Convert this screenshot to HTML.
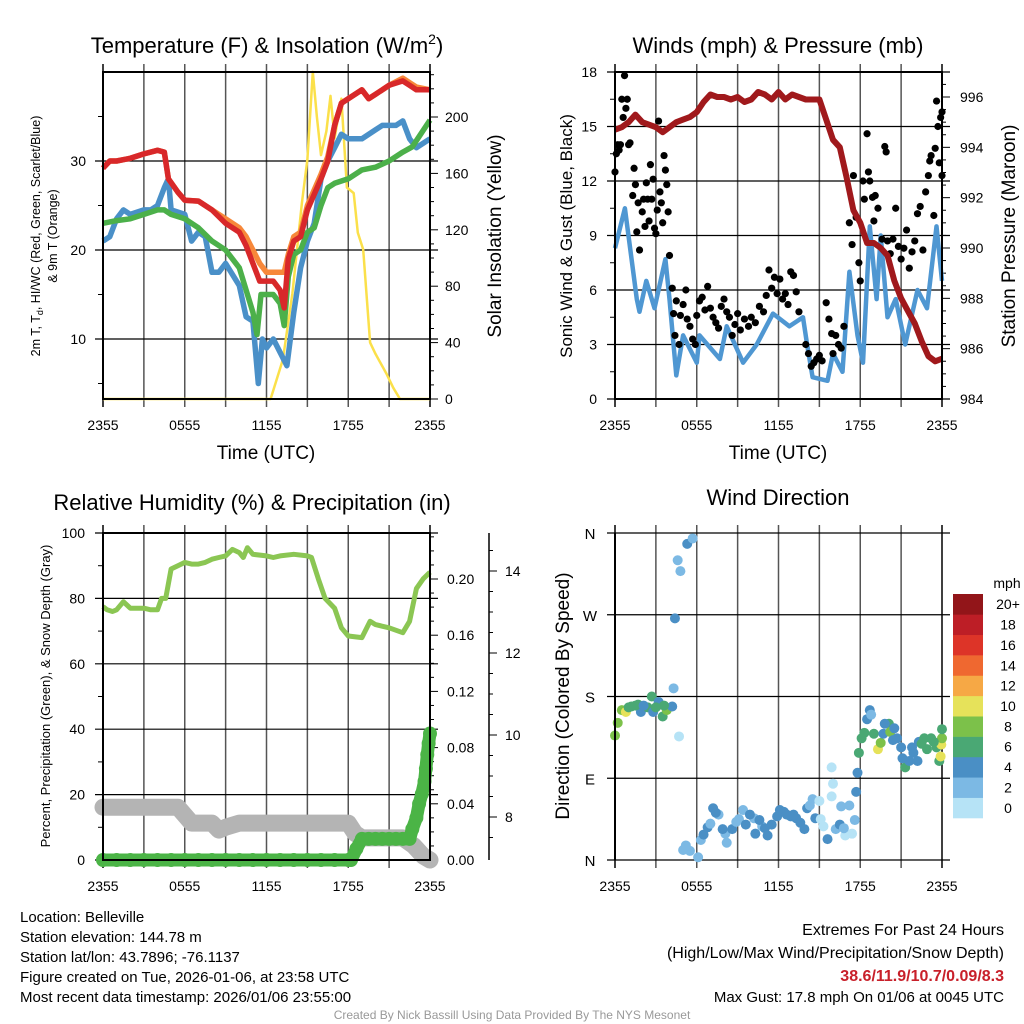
<!DOCTYPE html>
<html><head><meta charset="utf-8"><style>
html,body{margin:0;padding:0;background:#fff;}
svg{display:block;font-family:"Liberation Sans",sans-serif;}
</style></head><body>
<svg id="chart" width="1024" height="1024" viewBox="0 0 1024 1024" xmlns="http://www.w3.org/2000/svg">
<rect x="0" y="0" width="1024" height="1024" fill="#fff"/>
<text x="267" y="53" font-size="22" text-anchor="middle">Temperature (F) &amp; Insolation (W/m<tspan dy="-9" font-size="14">2</tspan><tspan dy="9">)</tspan></text>
<text x="778" y="53" font-size="22" text-anchor="middle">Winds (mph) &amp; Pressure (mb)</text>
<text x="252" y="510" font-size="22" text-anchor="middle">Relative Humidity (%) &amp; Precipitation (in)</text>
<text x="778" y="505" font-size="22" text-anchor="middle">Wind Direction</text>
<text transform="translate(40,236) rotate(-90)" font-size="12.5" text-anchor="middle">2m T, T<tspan dy="3" font-size="9">d</tspan><tspan dy="-3">, HI/WC (Red, Green, Scarlet/Blue)</tspan></text>
<text transform="translate(57,236) rotate(-90)" font-size="12.5" text-anchor="middle">&amp; 9m T (Orange)</text>
<text transform="translate(501,236) rotate(-90)" font-size="19" text-anchor="middle">Solar Insolation (Yellow)</text>
<text transform="translate(572,236) rotate(-90)" font-size="17" text-anchor="middle">Sonic Wind &amp; Gust (Blue, Black)</text>
<text transform="translate(1015,236) rotate(-90)" font-size="19" text-anchor="middle">Station Pressure (Maroon)</text>
<text transform="translate(50,696) rotate(-90)" font-size="13" text-anchor="middle">Percent, Precipitation (Green), &amp; Snow Depth (Gray)</text>
<text transform="translate(569,696) rotate(-90)" font-size="19" text-anchor="middle">Direction (Colored By Speed)</text>
<text x="266" y="459" font-size="19" text-anchor="middle">Time (UTC)</text>
<text x="778" y="459" font-size="19" text-anchor="middle">Time (UTC)</text>
<g font-size="15">
<text x="20" y="922">Location: Belleville</text>
<text x="20" y="942">Station elevation: 144.78 m</text>
<text x="20" y="962">Station lat/lon: 43.7896; -76.1137</text>
<text x="20" y="982">Figure created on Tue, 2026-01-06, at 23:58 UTC</text>
<text x="20" y="1002">Most recent data timestamp: 2026/01/06 23:55:00</text>
</g>
<g font-size="15" text-anchor="end">
<text x="1004" y="935" font-size="16">Extremes For Past 24 Hours</text>
<text x="1004" y="958" font-size="16">(High/Low/Max Wind/Precipitation/Snow Depth)</text>
<text x="1004" y="981" font-size="16" font-weight="bold" fill="#c8202a">38.6/11.9/10.7/0.09/8.3</text>
<text x="1004" y="1002">Max Gust: 17.8 mph On 01/06 at 0045 UTC</text>
</g>
<text x="512" y="1019" font-size="12" fill="#999" text-anchor="middle">Created By Nick Bassill Using Data Provided By The NYS Mesonet</text>
<g id="layer"></g>
</svg>
<script>
// ---- Panel 1 data (hours since 2355) ----
const tT = [0,0.5,1,2,3,4,4.5,4.8,5.5,6,7,8,9,10,10.5,11,11.5,12,12.5,13,13.3,13.6,14,14.5,15,16,16.5,17,17.5,18,19,19.5,20,21,22,22.5,23,24];
const tempRed = [29.2,30,30,30.3,30.8,31.2,31,28,26.5,25.6,25.5,24.5,23,22,20.5,18.5,16.5,16.5,16.5,15.5,13.5,19,21,21.5,24.5,28,30,34,36.5,37,38,37,37.5,38.5,39,38.5,38,38];
const tempOrange = [29.2,30,30,30.3,30.8,31.2,31,28,26.5,25.6,25.5,24.5,23.5,22.5,21.5,20,18.5,17.5,17.5,17.5,17.5,19.5,21.5,22,25,28.5,30.5,34,36.5,37,38,37,37.5,38.5,39.3,38.8,38.3,38];
const tD = [0,0.5,1,1.5,2,3,3.5,4,4.5,4.8,5,6,6.5,7,7.5,8,8.5,9,10,10.5,11,11.4,11.7,12,12.5,13,13.5,14,14.5,15,15.5,16,16.5,17,17.5,18,18.5,19,19.5,20,20.5,21,21.5,22,22.5,23,24];
const dewBlue = [21,21.5,23.5,24.5,24,24.5,24.5,25,27,28,24.5,24,21,22,21.5,17.5,17.5,18.5,16,12.5,12,5,10,9,10,8.5,7,13,18,21,23,28,30,31.5,33,32.5,32.5,32.5,33,33.5,34,34,34,34.5,32.5,31.5,32.5];
const tG = [0,1,2,3,4,4.5,5,6,7,8,9,10,10.5,11,11.3,11.6,12,12.5,13,13.3,13.6,14,14.5,15,15.5,16,16.5,17,18,19,20,21,21.5,22,22.7,24];
const windchillGreen = [23,23.3,23.5,24,24.5,24.5,24,23.5,22.5,21,20,18,15.5,13,10.5,15,15,15,14,11.5,17,19.5,20,22,22.5,25,27,27.5,28,29,29.3,30,30.5,31,31.6,34.6];
const tS = [0,11.8,12.3,13.2,13.9,14.6,15,15.4,15.7,16,16.4,16.7,17,17.5,17.9,18.4,18.7,19.1,19.6,20,20.8,21.3,21.8,24];
const solarYellow = [0,0,0,28,75,139,170,232,200,173,190,215,185,213,150,146,118,106,40,32,18,8,0,0];
const tempTicks = [10,20,30];
const solarTicks = [0,40,80,120,160,200];
// ---- Panel 2 data ----
const tW = [0,0.73,1.6,1.8,2.3,2.9,3.7,4,4.5,5,6,6.2,7.7,8.2,9.4,10.4,11.6,12.8,13.8,14.1,14.5,15.6,16,16.7,17.2,17.8,18.2,18.7,19.2,19.5,20,20.6,21.3,22.2,22.9,23.6,24];
const windBlue = [8.3,10.5,5.5,4.8,6.5,5,7.7,5.5,1.3,3.5,2,3.5,2.2,4,2,3,4.7,4,4.5,3,1.2,1,2.5,1.5,7,3.5,2,9.5,5.5,9,4.5,5.5,3,6,5,9.5,6.5];
const tGust = [0,0.1,0.2,0.3,0.4,0.5,0.6,0.7,0.8,0.9,1,1.1,1.3,1.4,1.5,1.6,1.7,1.8,2,2.1,2.2,2.3,2.4,2.5,2.6,2.7,2.8,2.9,3,3.1,3.2,3.3,3.4,3.5,3.6,3.7,3.8,3.9,4,4.2,4.3,4.4,4.5,4.7,4.8,5,5.2,5.3,5.5,5.7,5.9,6,6.2,6.4,6.6,6.8,7,7.2,7.4,7.6,7.8,8,8.2,8.4,8.6,8.8,9,9.2,9.5,9.8,10,10.3,10.6,10.9,11.1,11.3,11.5,11.7,11.9,12.1,12.3,12.5,12.7,12.9,13.1,13.3,13.5,14,14.2,14.4,14.6,14.8,15,15.2,15.5,15.7,15.9,16,16.2,16.4,16.6,16.8,17.2,17.4,17.5,17.7,17.9,18,18.2,18.3,18.5,18.6,18.7,18.9,19,19.1,19.3,19.6,19.8,19.9,20,20.2,20.4,20.6,20.8,21,21.2,21.4,21.6,21.8,22,22.2,22.4,22.6,22.8,23,23.1,23.2,23.4,23.5,23.6,23.7,23.8,23.9,24,24];
const gustBlack = [12.5,13.5,14,13.7,14,16.5,15.5,17.8,16,16.5,14,14.1,11.2,12.7,11.8,9.2,10.8,8.2,10.3,11,9.5,11.9,11,9.8,12.9,11,12.1,9.4,9.1,10.4,15.3,11.4,10.8,9.7,13.4,12.6,11.8,10.3,7.9,6.1,4.7,3.5,5.4,3,4.6,5.2,6,4.4,4,3.3,3,4.6,5.4,5.6,4.9,6.2,5,4.5,4.2,3.9,5.1,5.5,4.8,4.5,3.5,4.1,4.7,3.8,4.4,4,4.5,4.2,5.1,4.8,5.7,7.1,6.1,6.7,5.8,6.6,5.5,5.8,5.2,7,6.8,5.9,4.8,3,2.5,1.8,2,2.2,2.4,2.1,5.3,4.4,3.6,2.5,3.5,3,2.8,4,9.7,8.5,12.3,10,7.5,6.5,12,11,14.6,12.5,12,11.1,9.8,11.2,10.5,8.8,13.9,13.6,8.7,8,8.8,10.5,8.4,7.7,8.3,9.3,7.2,8.1,8.7,10.2,10.6,8.2,11.4,12.3,13.1,13.4,10.1,13.8,16.4,15,13,15.5,15.8,12.3];
const tP = [0,0.5,1,1.5,2,2.5,3,3.5,4,4.5,5,5.5,6,6.5,7,7.5,8,8.5,9,9.5,10,10.5,11,11.5,12,12.5,13,13.5,14,15,15.5,16,16.5,17,17.5,18,18.5,19,19.5,20,20.5,21,21.5,22,22.5,23,23.5,24];
const pressureMaroon = [994.7,994.8,995,995.3,995,994.9,994.8,994.6,994.8,995,995.1,995.2,995.4,995.8,996.1,996,996,995.9,996,995.8,995.9,996.2,996.1,995.9,996.2,995.9,996.1,996,995.9,995.9,995.1,994.3,994,992.8,991.5,991,990.2,990.2,990,989.7,988.7,988,987.5,987,986.3,985.7,985.5,985.6];
const windTicks = [0,3,6,9,12,15,18];
const pressureTicks = [984,986,988,990,992,994,996];
// ---- Panel 3 data ----
const tRH = [0,0.3,0.7,1,1.5,2,3,3.5,4,4.3,4.6,5,5.5,6,6.5,7,7.5,8,8.5,9,9.5,10,10.3,10.6,11,12,12.5,13,14,15,15.3,15.8,16.3,17,17.5,18,19,19.6,20,21,22,22.5,23,23.5,24];
const rhGreen = [77.5,76.5,76,76.5,79,77,77,76.5,76.5,80,80,89,90,91,90.5,90.5,91,92,92.5,93,95,94,92.5,95.5,93.5,93,92.5,93,93.5,93,92.5,86,80,77,71,68.5,68,73,72,71,69.5,73,83,86,88];
const tSnow = [0,5.5,6.5,8,8.5,9,10,13,16,18,18.5,19,21,22,22.8,23.5,24];
const snowGray = [8.24,8.24,7.85,7.85,7.68,7.75,7.85,7.85,7.85,7.85,7.6,7.49,7.49,7.49,7.3,7.05,6.95];
const tPrecip = [0,1,2,3,4,5,6,7,8,9,10,11,12,13,14,15,16,17,18,18.2,18.6,19,19.5,20,20.5,21,21.5,22,22.5,22.7,23,23.2,23.4,23.6,23.7,23.8,23.9,24];
const precipGreen = [0,0,0,0,0,0,0,0,0,0,0,0,0,0,0,0,0,0,0,0,0.008,0.015,0.015,0.015,0.015,0.015,0.015,0.015,0.015,0.022,0.03,0.04,0.047,0.056,0.065,0.075,0.083,0.09];
const rhTicks = [0,20,40,60,80,100];
const precipTicks = [0,0.04,0.08,0.12,0.16,0.2];
const precipTickLabels = ["0.00","0.04","0.08","0.12","0.16","0.20"];
const snowTicks = [8,10,12,14];
// ---- Panel 4 data ----
const tDir = [0,0.2,0.5,0.8,1.2,1.7,1.9,2.4,2.7,2.8,3.2,3.5,3.8,4.2,4.3,4.4,4.7,4.6,4.8,5.3,5.7,5.0,5.5,6.1,6.3,6.8,7.2,7.6,8.1,8.2,8.6,9.1,9.4,9.6,10.2,10.3,10.8,11.2,11.5,11.9,12.4,12.9,13.3,13.6,13.9,14.1,14.5,14.7,15,15.3,15.6,15.9,16,15.9,16.2,16.5,16.6,16.9,17.2,17.4,17.6,17.7,17.8,17.9,18.1,18.5,18.7,18.8,19.0,19.3,19.5,19.7,20.1,20.2,20.5,20.7,21,21.3,21.6,21.8,22.2,22.3,22.7,22.9,23.2,23.6,23.8,23.9,23.95,24,24,1.0,1.5,2.1,3.0,3.6,5.2,6.5,7.0,7.4,7.9,8.9,9.9,10.6,11.0,12.1,12.6,13.1,14.3,15.1,16.8,18.3,19.8,20.4,21.1,21.9,22.5,23.4];
const dirDeg = [137,151,165,163,169,171,163,168,180,163,174,158,165,169,189,266,136,330,318,348,354,11,10,3,22,36,57,50,29,19,34,45,55,39,46,29,37,27,39,48,53,48,46,41,34,57,67,46,65,37,23,102,84,70,34,39,59,27,60,29,44,75,96,118,134,155,165,160,139,122,129,139,150,141,145,134,124,102,109,124,109,130,134,122,134,124,109,114,127,134,144,168,170,170,168,170,16,28,40,52,34,42,50,44,35,55,50,50,60,45,35,140,150,132,112,118,128,130];
const dirSpeed = [8,8,8,10,6,6,4,6,6,4,4,6,8,4,2,4,0,2,2,4,2,2,2,2,2,4,4,2,2,2,4,2,2,4,2,4,2,4,4,4,4,4,4,4,4,4,2,4,0,0,4,0,0,0,2,4,2,0,2,0,2,4,4,6,6,4,4,2,6,10,8,4,6,8,4,4,4,6,4,4,4,4,6,6,6,6,6,10,10,8,6,6,6,4,6,6,2,4,2,4,4,2,4,4,4,4,4,4,2,0,2,6,4,4,4,4,6,6];
const dirTickLabels = ["N","E","S","W","N"];
const speedBins = ["0","2","4","6","8","10","12","14","16","18","20+"];
const speedColors = ["#b6e3f6","#7cb9e4","#4a8fc5","#4aa874","#7cc14a","#e6e25a","#f6a845","#ef6830","#dd3428","#bd1e26","#921519"];

const NS = "http://www.w3.org/2000/svg";
const layer = document.getElementById('layer');
function mk(tag, attrs, name, parent) {
  const el = document.createElementNS(NS, tag);
  for (const k in attrs) el.setAttribute(k, attrs[k]);
  
  
  (parent || layer).appendChild(el);
  return el;
}
function lin(d0, d1, r0, r1) { return v => r0 + (v - d0) * (r1 - r0) / (d1 - d0); }
function pathD(ts, vs, xf, yf) { return ts.map((t, i) => (i ? 'L' : 'M') + xf(t).toFixed(1) + ',' + yf(vs[i]).toFixed(1)).join(''); }
const timeLabels = ["2355","0555","1155","1755","2355"];

function frame(x0, x1, y0, y1, pname) {
  const xf = lin(0, 24, x0, x1);
  for (let h = 0; h <= 24; h += 3) {
    mk('line', {x1: xf(h), x2: xf(h), y1: y0 - 8, y2: y1 + 8, stroke: (h === 0 || h === 24) ? '#000' : '#555', 'stroke-width': 1.5}, pname + '-vgrid');
  }
  for (let i = 0; i < 5; i++) {
    mk('text', {x: xf(i * 6), y: y1 + 31, 'font-size': 14, 'text-anchor': 'middle'}, pname + '-x-tick-label').textContent = timeLabels[i];
  }
  return xf;
}
function hgrid(x0, x1, y, pname) {
  mk('line', {x1: x0 - 8, x2: x1 + 8, y1: y, y2: y, stroke: '#000', 'stroke-width': 1.2}, pname + '-hgrid');
}
function box(x0, x1, y0, y1, pname) {
  mk('rect', {x: x0, y: y0, width: x1 - x0, height: y1 - y0, fill: 'none', stroke: '#000', 'stroke-width': 2}, pname + '-frame');
}
function tickL(x, y, len, pname) { mk('line', {x1: x - len, x2: x, y1: y, y2: y, stroke: '#000', 'stroke-width': 1}, pname + '-tick'); }
function tickR(x, y, len, pname) { mk('line', {x1: x, x2: x + len, y1: y, y2: y, stroke: '#000', 'stroke-width': 1}, pname + '-tick'); }

// ===== Panel 1 =====
(function () {
  const x0 = 103, x1 = 430, y0 = 72, y1 = 399;
  const xf = frame(x0, x1, y0, y1, 'temp');
  const yT = lin(10, 20, 339, 250);
  const yS = lin(0, 200, 399, 117);
  tempTicks.forEach(v => {
    hgrid(x0, x1, yT(v), 'temp');
    mk('text', {x: 86, y: yT(v) + 5, 'font-size': 14, 'text-anchor': 'end'}, 'temp-y-tick-label').textContent = v;
  });
  [5, 15, 25, 35].forEach(v => tickL(x0, yT(v), 5, 'temp-minor'));
  solarTicks.forEach(v => {
    tickR(x1, yS(v), 8, 'solar');
    mk('text', {x: 445, y: yS(v) + 5, 'font-size': 14}, 'solar-y-tick-label').textContent = v;
  });
  for (let v = 10; v <= 230; v += 10) if (v % 40) tickR(x1, yS(v), 4, 'solar-minor');
  mk('path', {d: pathD(tS, solarYellow, xf, yS), fill: 'none', stroke: '#fbe04a', 'stroke-width': 2.5, 'stroke-linejoin': 'round'}, 'solar-insolation-line');
  mk('path', {d: pathD(tD, dewBlue, xf, yT), fill: 'none', stroke: '#4a90c8', 'stroke-width': 5.5, 'stroke-linejoin': 'round'}, 'dewpoint-line');
  mk('path', {d: pathD(tG, windchillGreen, xf, yT), fill: 'none', stroke: '#4cb04a', 'stroke-width': 5.5, 'stroke-linejoin': 'round'}, 'windchill-line');
  mk('path', {d: pathD(tT, tempOrange, xf, yT), fill: 'none', stroke: '#f7883a', 'stroke-width': 5.5, 'stroke-linejoin': 'round'}, 'temp-9m-line');
  mk('path', {d: pathD(tT, tempRed, xf, yT), fill: 'none', stroke: '#d8282a', 'stroke-width': 5.5, 'stroke-linejoin': 'round'}, 'temp-2m-line');
  box(x0, x1, y0, y1, 'temp');
})();

// ===== Panel 2 =====
(function () {
  const x0 = 615, x1 = 942, y0 = 72, y1 = 399;
  const xf = frame(x0, x1, y0, y1, 'wind');
  const yW = lin(0, 18, 399, 72);
  const yP = lin(984, 996, 399, 97);
  windTicks.forEach(v => {
    hgrid(x0, x1, yW(v), 'wind');
    mk('text', {x: 597, y: yW(v) + 5, 'font-size': 14, 'text-anchor': 'end'}, 'wind-y-tick-label').textContent = v;
  });
  for (let v = 1.5; v < 18; v += 3) tickL(x0, yW(v), 5, 'wind-minor');
  pressureTicks.forEach(v => {
    tickR(x1, yP(v), 8, 'pressure');
    mk('text', {x: 960, y: yP(v) + 5, 'font-size': 14}, 'pressure-y-tick-label').textContent = v;
  });
  for (let v = 984.5; v < 997; v += 0.5) if (v % 2) tickR(x1, yP(v), 4, 'pressure-minor');
  mk('path', {d: pathD(tW, windBlue, xf, yW), fill: 'none', stroke: '#4f97d2', 'stroke-width': 4.5, 'stroke-linejoin': 'round'}, 'sonic-wind-line');
  tGust.forEach((t, i) => {
    mk('circle', {cx: xf(t), cy: yW(gustBlack[i]), r: 3.6, fill: '#000'}, 'gust-point');
  });
  mk('path', {d: pathD(tP, pressureMaroon, xf, yP), fill: 'none', stroke: '#a0191c', 'stroke-width': 6, 'stroke-linejoin': 'round'}, 'pressure-line');
  box(x0, x1, y0, y1, 'wind');
})();

// ===== Panel 3 =====
(function () {
  const x0 = 103, x1 = 430, y0 = 533, y1 = 860;
  const xf = frame(x0, x1, y0, y1, 'rh');
  const yR = lin(0, 100, 860, 533);
  const yPr = lin(0, 0.2, 860, 579);
  const ySn = lin(8, 10, 817, 735);
  rhTicks.forEach(v => {
    hgrid(x0, x1, yR(v), 'rh');
    mk('text', {x: 85, y: yR(v) + 5, 'font-size': 14, 'text-anchor': 'end'}, 'rh-y-tick-label').textContent = v;
  });
  for (let v = 10; v < 100; v += 20) tickL(x0, yR(v), 5, 'rh-minor');
  precipTicks.forEach((v, i) => {
    tickR(x1, yPr(v), 8, 'precip');
    mk('text', {x: 447, y: yPr(v) + 5, 'font-size': 14}, 'precip-y-tick-label').textContent = precipTickLabels[i];
  });
  for (let v = 0.01; v < 0.235; v += 0.01) if (Math.round(v * 100) % 4) tickR(x1, yPr(v), 4, 'precip-minor');
  mk('line', {x1: 489, x2: 489, y1: 533, y2: 860, stroke: '#000', 'stroke-width': 1.5}, 'snow-axis-line');
  snowTicks.forEach(v => {
    tickR(489, ySn(v), 8, 'snow');
    mk('text', {x: 505, y: ySn(v) + 5, 'font-size': 14}, 'snow-y-tick-label').textContent = v;
  });
  for (let v = 7.5; v < 15; v += 0.5) if (v % 2) tickR(489, ySn(v), 4, 'snow-minor');
  mk('path', {d: pathD(tSnow, snowGray, xf, ySn), fill: 'none', stroke: '#b4b4b4', 'stroke-width': 17, 'stroke-linejoin': 'round', 'stroke-linecap': 'round'}, 'snow-depth-line');
  mk('path', {d: pathD(tPrecip, precipGreen, xf, yPr), fill: 'none', stroke: '#4bb446', 'stroke-width': 13, 'stroke-linejoin': 'round', 'stroke-linecap': 'round'}, 'precip-line');
  tPrecip.forEach((t, i) => {
    mk('circle', {cx: xf(t), cy: yPr(precipGreen[i]), r: 7, fill: '#4bb446'}, 'precip-point');
  });
  mk('path', {d: pathD(tRH, rhGreen, xf, yR), fill: 'none', stroke: '#8bc653', 'stroke-width': 5, 'stroke-linejoin': 'round'}, 'rh-line');
  box(x0, x1, y0, y1, 'rh');
})();

// ===== Panel 4 =====
(function () {
  const x0 = 615, x1 = 942, y0 = 533, y1 = 860;
  const xf = frame(x0, x1, y0, y1, 'dir');
  const yD = lin(0, 360, 860, 533);
  dirTickLabels.forEach((lab, i) => {
    hgrid(x0, x1, yD(i * 90), 'dir');
    mk('text', {x: 590, y: yD(i * 90) + 6, 'font-size': 15, 'text-anchor': 'middle'}, 'dir-y-tick-label').textContent = lab;
  });
  tDir.forEach((t, i) => {
    const c = speedColors[Math.min(10, Math.floor(dirSpeed[i] / 2))];
    mk('circle', {cx: xf(t), cy: yD(dirDeg[i]), r: 5, fill: c}, 'direction-point');
  });
  mk('line', {x1: x0, x2: x0, y1: y0, y2: y1, stroke: '#000', 'stroke-width': 2}, 'dir-left-axis');
  const bh = (818 - 594) / 11;
  speedBins.forEach((lab, i) => {
    const y = 818 - (i + 1) * bh;
    mk('rect', {x: 953, y: y, width: 30, height: bh + 0.3, fill: speedColors[i]}, 'colorbar-box');
    mk('text', {x: 1008, y: y + bh / 2 + 5, 'font-size': 14, 'text-anchor': 'middle'}, 'colorbar-label').textContent = lab;
  });
  mk('text', {x: 1007, y: 588, 'font-size': 14, 'text-anchor': 'middle'}, 'colorbar-unit').textContent = 'mph';
})();
</script>
</body></html>
